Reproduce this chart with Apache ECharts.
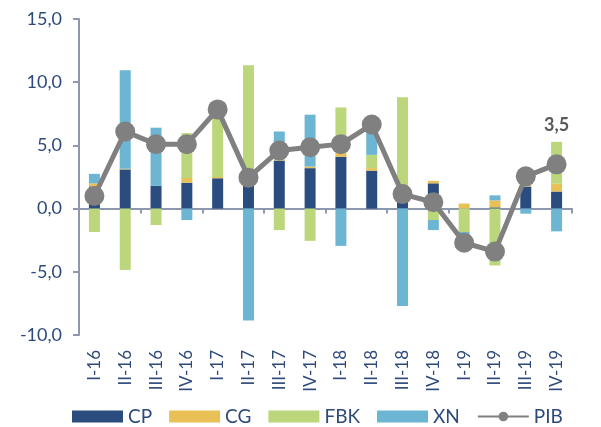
<!DOCTYPE html>
<html style="height: 100%">
<head>
    <meta charset="utf-8">
    <script src="https://cdn.jsdelivr.net/npm/echarts@6/dist/echarts.min.js"></script>
</head>
<body style="height: 100%; margin: 0; background: #fff;">
    <div id="container" style="width: 601px; height: 427px;"></div>
    <script type="text/javascript">
        // 季度
        var categories = ['I-16', 'II-16', 'III-16', 'IV-16', 'I-17', 'II-17', 'III-17', 'IV-17',
                          'I-18', 'II-18', 'III-18', 'IV-18', 'I-19', 'II-19', 'III-19', 'IV-19'];
        var cpData  = [1.75, 3.1, 1.8, 2.05, 2.4, 1.85, 3.8, 3.2, 4.1, 3.0, 0.6, 2.0, 0.0, 0.1, 1.75, 1.35];
        var cgData  = [0.25, 0.05, 0.0, 0.37, 0.1, 0.05, 0.1, 0.13, 0.3, 0.2, 0.0, 0.2, 0.4, 0.55, 0.15, 0.63];
        var fbkData = [-1.85, -4.85, -1.3, 3.55, 4.9, 9.45, -1.7, -2.55, 3.6, 1.05, 8.2, -0.9, -1.85, -4.5, 0.2, 3.3];
        var xnData  = [0.75, 7.8, 4.6, -0.9, 0.0, -8.85, 2.2, 4.1, -2.95, 2.2, -7.7, -0.8, -0.25, 0.4, -0.4, -1.8];
        var pibData = [1.0, 6.1, 5.1, 5.1, 7.85, 2.45, 4.6, 4.85, 5.1, 6.65, 1.15, 0.5, -2.7, -3.4, 2.55, 3.5];

        var axisColor = '#8d97ad';
        var textColor = '#2e4a7a';
        var fontName = 'Lato';

        function barSeries(name, data, color) {
            return {
                name: name,
                type: 'bar',
                stack: 'total',
                barWidth: 11,
                itemStyle: { color: color },
                data: data
            };
        }

        var myChart = echarts.init(document.getElementById('container'));
        var option = {
            animation: false,
            textStyle: { fontFamily: fontName },
            grid: { left: 79, right: 29, top: 19, bottom: 92, outerBoundsMode: 'none' },
            legend: {
                left: 72,
                top: 407,
                padding: 0,
                itemWidth: 51,
                itemHeight: 12,
                itemGap: 17,
                textStyle: { color: textColor, fontSize: 19, fontFamily: fontName },
                data: [
                    { name: 'CP', icon: 'rect' },
                    { name: 'CG', icon: 'rect' },
                    { name: 'FBK', icon: 'rect' },
                    { name: 'XN', icon: 'rect' },
                    { name: 'PIB' }
                ]
            },
            xAxis: [
                {
                    // 零线 + 刻度
                    type: 'category',
                    data: categories,
                    axisLine: { onZero: true, lineStyle: { color: axisColor, width: 2 } },
                    axisTick: { show: true, length: 5, lineStyle: { color: axisColor, width: 2 } },
                    axisLabel: { show: false }
                },
                {
                    // 底部标签
                    type: 'category',
                    data: categories,
                    position: 'bottom',
                    axisLine: { show: false, onZero: false },
                    axisTick: { show: false },
                    axisLabel: {
                        rotate: 90,
                        margin: 15,
                        color: textColor,
                        fontSize: 17,
                        fontFamily: fontName
                    }
                }
            ],
            yAxis: {
                type: 'value',
                min: -10,
                max: 15,
                interval: 5,
                splitLine: { show: false },
                axisLine: { show: true, lineStyle: { color: axisColor, width: 2 } },
                axisTick: { show: true, length: 6, lineStyle: { color: axisColor, width: 2 } },
                axisLabel: {
                    color: textColor,
                    fontSize: 18,
                    margin: 17,
                    fontFamily: fontName,
                    formatter: function (v) { return v.toFixed(1).replace('.', ','); }
                }
            },
            series: [
                barSeries('CP', cpData, '#2b4c7e'),
                barSeries('CG', cgData, '#e8c056'),
                barSeries('FBK', fbkData, '#bcd67b'),
                barSeries('XN', xnData, '#6cb5d3'),
                {
                    name: 'PIB',
                    type: 'line',
                    z: 5,
                    symbol: 'circle',
                    symbolSize: 20,
                    lineStyle: { color: '#808080', width: 5 },
                    itemStyle: { color: '#808080' },
                    data: pibData.map(function (v, i) {
                        if (i === pibData.length - 1) {
                            return {
                                value: v,
                                label: {
                                    show: true,
                                    position: 'top',
                                    distance: 20,
                                    color: '#595959',
                                    fontWeight: 'bold',
                                    fontSize: 18,
                                    fontFamily: fontName,
                                    formatter: function (p) { return p.value.toFixed(1).replace('.', ','); }
                                }
                            };
                        }
                        return v;
                    })
                }
            ]
        };
        myChart.setOption(option);
    </script>
</body>
</html>
